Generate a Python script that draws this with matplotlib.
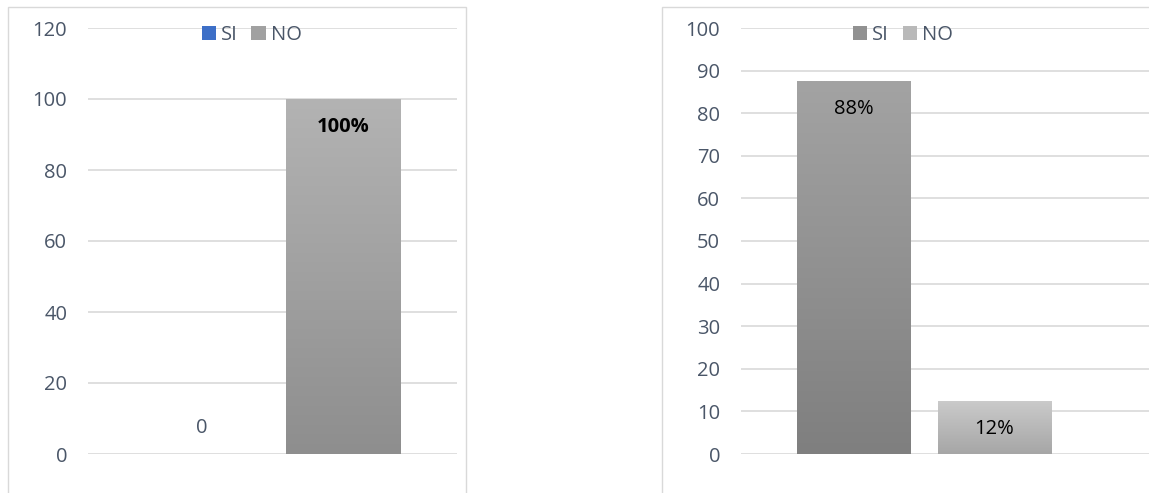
import numpy as np
import matplotlib.pyplot as plt
from matplotlib.colors import LinearSegmentedColormap, to_rgb
from matplotlib.patches import Rectangle, Patch

# datos de las dos encuestas
series = ["SI", "NO"]
left_values = [0, 100]
left_labels = ["0", "100%"]
right_values = [87.5, 12.5]
right_labels = ["88%", "12%"]

# colores (arriba, abajo) del degradado de cada barra
left_colors = [("#4a7bd0", "#2f62bd"), ("#b3b3b3", "#8e8e8e")]
right_colors = [("#a3a3a3", "#7f7f7f"), ("#cbcbcb", "#a6a6a6")]

plt.rcParams['font.family'] = ['Open Sans', 'DejaVu Sans']
TICK_COLOR = "#4a5668"
GRID_COLOR = "#d9d9d9"
FS = 14.5

W, H = 1149, 493
fig = plt.figure(figsize=(W / 100, H / 100), dpi=100)


def px_axes(x0, x1, y_top, y_bot):
    return fig.add_axes([x0 / W, 1 - y_bot / H, (x1 - x0) / W, (y_bot - y_top) / H])


def gradient_bar(ax, x, h, width, top, bottom):
    bar = ax.bar(x, h, width=width, color=bottom, linewidth=0)[0]
    if h <= 0:
        return bar
    cmap = LinearSegmentedColormap.from_list("g", [bottom, top])
    grad = np.linspace(0, 1, 256).reshape(-1, 1)
    im = ax.imshow(grad, cmap=cmap, origin="lower", aspect="auto",
                   extent=[x - width / 2, x + width / 2, 0, h], zorder=2)
    im.set_clip_path(bar)
    return bar


def draw_chart(ax, values, labels, colors, ymax, step, xmax, bold):
    offsets = [-0.385, 0.385]
    width = 0.62
    for x, v, lab, (top, bottom) in zip(offsets, values, labels, colors):
        gradient_bar(ax, x, v, width, top, bottom)
        dy = 19 if v == 0 else -20
        ax.annotate(lab, xy=(x, v), xytext=(0, dy), textcoords="offset points",
                    ha="center", va="center", fontsize=FS,
                    color="#000000" if v else TICK_COLOR,
                    fontweight="bold" if (bold and v) else "normal", zorder=5)
    ax.set_xlim(-1, xmax)
    ax.set_ylim(0, ymax)
    ax.set_yticks(np.arange(0, ymax + 1, step))
    ax.set_xticks([])
    ax.yaxis.grid(True, color=GRID_COLOR, linewidth=1.2)
    ax.set_axisbelow(True)
    for s in ax.spines.values():
        s.set_visible(False)
    ax.tick_params(axis="y", length=0, pad=15, labelsize=FS, labelcolor=TICK_COLOR)


ax1 = px_axes(88, 457, 28, 454)
draw_chart(ax1, left_values, left_labels, left_colors, 120, 20, 1, True)

ax2 = px_axes(741, 1149, 28, 454)
draw_chart(ax2, right_values, right_labels, right_colors, 100, 10, (1149 - 924) / 183, False)

# leyendas (color medio del degradado)
for colors, cx in [(left_colors, 251.5), (right_colors, 903)]:
    handles = [Patch(facecolor=(np.array(to_rgb(t)) + np.array(to_rgb(b))) / 2,
                     edgecolor="none") for t, b in colors]
    fig.legend(handles, series, loc="center", bbox_to_anchor=(cx / W, 1 - 35 / H),
               ncol=2, frameon=False, fontsize=FS, labelcolor=TICK_COLOR,
               handlelength=0.7, handleheight=0.7, handletextpad=0.25,
               columnspacing=0.7, borderaxespad=0)

# marcos de cada grafico
fig.add_artist(Rectangle((8 / W, -0.05), (466 - 8) / W, 1.05 - 7 / H,
                         transform=fig.transFigure, fill=False,
                         edgecolor="#d9d9d9", linewidth=1))
fig.add_artist(Rectangle((662 / W, -0.05), 0.5, 1.05 - 7 / H,
                         transform=fig.transFigure, fill=False,
                         edgecolor="#d9d9d9", linewidth=1))

fig.savefig("out.png", dpi=100)
